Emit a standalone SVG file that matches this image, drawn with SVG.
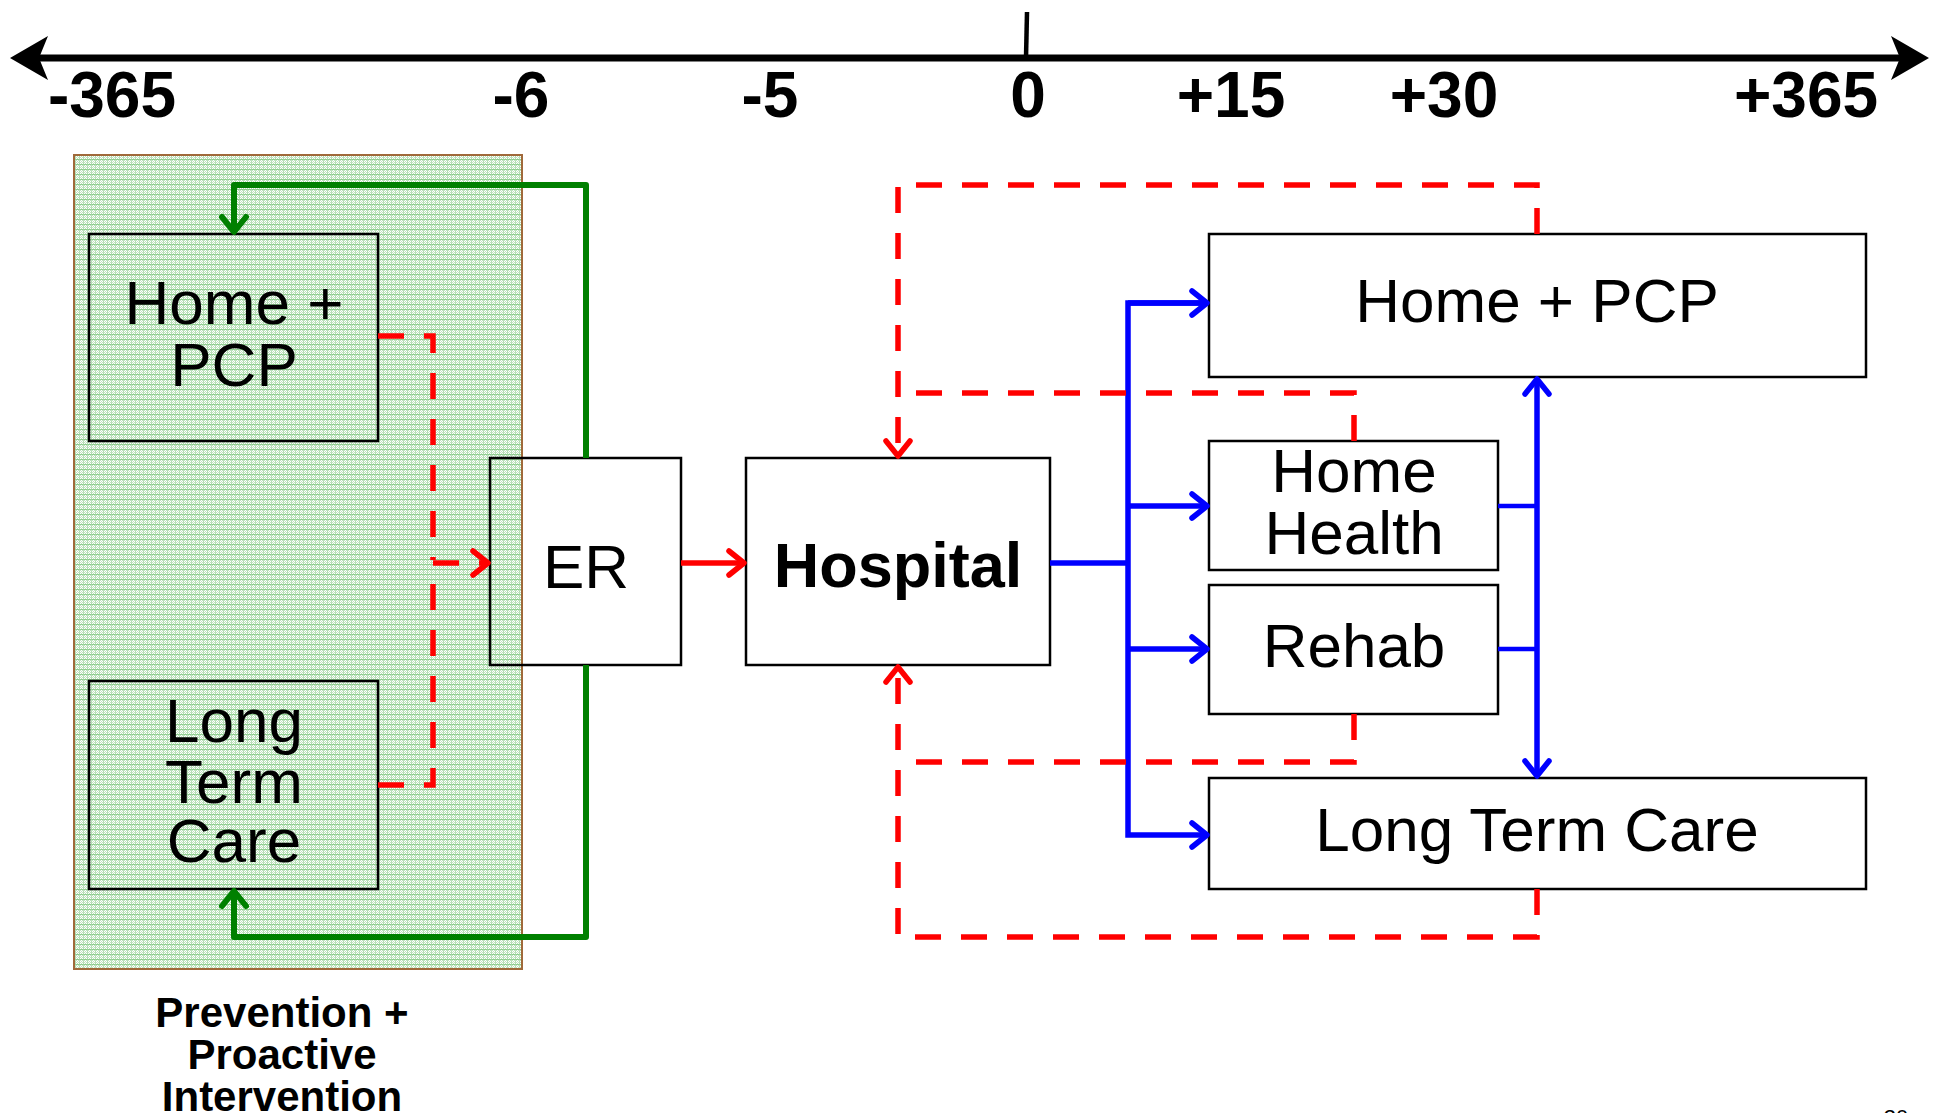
<svg xmlns="http://www.w3.org/2000/svg" width="1939" height="1113" viewBox="0 0 1939 1113">
<defs>
<style>
.box{fill:none;stroke:#000;stroke-width:2.5}
.wbox{fill:#fff;stroke:#000;stroke-width:2.5}
.t{font-family:"Liberation Sans",Arial,sans-serif;font-size:62px;fill:#000;text-anchor:middle}
.tb{font-family:"Liberation Sans",Arial,sans-serif;font-weight:bold;fill:#000;text-anchor:middle}
.ax{font-size:64px}
.blue{fill:none;stroke:#0000ff;stroke-width:5.5}
.blue2{fill:none;stroke:#0000ff;stroke-width:4.5}
.red{fill:none;stroke:#ff0000;stroke-width:5.5}
.dash{fill:none;stroke:#ff0000;stroke-width:5.5;stroke-dasharray:26 20}
.green{fill:none;stroke:#008000;stroke-width:6;stroke-linejoin:round}
</style>
<pattern id="hatch" width="4" height="5" patternUnits="userSpaceOnUse">
<rect width="4" height="5" fill="#ffffff"/>
<path d="M0 0h1v1h-1zM2 0h1v1h-1zM1 1h1v1h-1zM3 1h1v1h-1zM0 2h1v1h-1zM2 2h1v1h-1zM1 3h1v1h-1zM3 3h1v1h-1z" fill="#bfe2bf"/>
<rect y="4" width="4" height="1" fill="#8ecd8e"/>
<rect x="3" width="1" height="5" fill="#a6d7a6" opacity="0.7"/>
</pattern>
<marker id="mb" viewBox="0 0 40 40" refX="20" refY="20" markerWidth="40" markerHeight="40" markerUnits="userSpaceOnUse" orient="auto-start-reverse">
<path d="M5 8 L20 20 L5 32" fill="none" stroke="#0000ff" stroke-width="5.5" stroke-linecap="round" stroke-linejoin="round"/>
</marker>
<marker id="mr" viewBox="0 0 40 40" refX="20" refY="20" markerWidth="40" markerHeight="40" markerUnits="userSpaceOnUse" orient="auto">
<path d="M5 8 L20 20 L5 32" fill="none" stroke="#ff0000" stroke-width="5.5" stroke-linecap="round" stroke-linejoin="round"/>
</marker>
<marker id="mg" viewBox="0 0 40 40" refX="20" refY="20" markerWidth="40" markerHeight="40" markerUnits="userSpaceOnUse" orient="auto">
<path d="M5 8 L20 20 L5 32" fill="none" stroke="#008000" stroke-width="6" stroke-linecap="round" stroke-linejoin="round"/>
</marker>
</defs>
<rect width="1939" height="1113" fill="#fff"/>

<g id="timeline">
<line x1="30" y1="58" x2="1910" y2="58" stroke="#000" stroke-width="7"/>
<polygon points="10,58 48,36 39,58 48,80" fill="#000"/>
<polygon points="1929,58 1891,36 1900,58 1891,80" fill="#000"/>
<line x1="1027" y1="12" x2="1026" y2="58" stroke="#000" stroke-width="4.5"/>
<g class="tb ax">
<text x="112" y="117">-365</text>
<text x="521" y="117">-6</text>
<text x="770" y="117">-5</text>
<text x="1028" y="117">0</text>
<text x="1231" y="117">+15</text>
<text x="1444" y="117">+30</text>
<text x="1806" y="117">+365</text>
</g>
</g>

<g id="prevention-zone">
<rect x="74" y="155" width="448" height="814" fill="url(#hatch)" stroke="#a0693a" stroke-width="2"/>
<text class="tb" font-size="42" x="282" y="1027">Prevention +</text>
<text class="tb" font-size="42" x="282" y="1069">Proactive</text>
<text class="tb" font-size="42" x="282" y="1111">Intervention</text>
</g>

<g id="node-left-home-pcp">
<rect class="box" x="89" y="234" width="289" height="207"/>
<text class="t" x="234" y="324">Home +</text>
<text class="t" x="234" y="386">PCP</text>
</g>
<g id="node-left-ltc">
<rect class="box" x="89" y="681" width="289" height="208"/>
<text class="t" x="234" y="742">Long</text>
<text class="t" x="234" y="803">Term</text>
<text class="t" x="234" y="862">Care</text>
</g>
<g id="node-er">
<rect class="box" x="490" y="458" width="191" height="207"/>
<text class="t" x="586" y="588">ER</text>
</g>
<g id="node-hospital">
<rect class="wbox" x="746" y="458" width="304" height="207"/>
<text class="tb" font-size="63" x="898" y="587">Hospital</text>
</g>
<g id="node-right-home-pcp">
<rect class="wbox" x="1209" y="234" width="657" height="143"/>
<text class="t" x="1537" y="322">Home + PCP</text>
</g>
<g id="node-home-health">
<rect class="wbox" x="1209" y="441" width="289" height="129"/>
<text class="t" x="1354" y="492">Home</text>
<text class="t" x="1354" y="554">Health</text>
</g>
<g id="node-rehab">
<rect class="wbox" x="1209" y="585" width="289" height="129"/>
<text class="t" x="1354" y="667">Rehab</text>
</g>
<g id="node-right-ltc">
<rect class="wbox" x="1209" y="778" width="657" height="111"/>
<text class="t" x="1537" y="851">Long Term Care</text>
</g>

<g id="connectors">
<path class="green" d="M586 458 V185 H234 V232" marker-end="url(#mg)"/>
<path class="green" d="M586 665 V937 H234 V891" marker-end="url(#mg)"/>
<path class="dash" d="M378 336 H433 V560"/>
<path class="dash" d="M378 785 H433 V566"/>
<path class="dash" d="M433 563 H488" marker-end="url(#mr)"/>
<path class="red" d="M681 563 H744" marker-end="url(#mr)"/>
<path class="blue" d="M1050 563 H1128"/>
<path class="blue" d="M1207 303 H1128 V835 H1207" marker-end="url(#mb)"/>
<path class="blue" d="M1128 506 H1207" marker-end="url(#mb)"/>
<path class="blue" d="M1128 649 H1207" marker-end="url(#mb)"/>
<path class="blue" d="M1128 303 H1207" marker-end="url(#mb)"/>
<path class="blue2" d="M1498 506 H1537"/>
<path class="blue2" d="M1498 649 H1537"/>
<path class="blue" d="M1537 379 V776" marker-start="url(#mb)" marker-end="url(#mb)"/>
<path class="dash" d="M1537 234 V185 H898 V456" marker-end="url(#mr)"/>
<path class="dash" d="M1354 441 V393 H909"/>
<path class="dash" d="M1354 714 V762 H909"/>
<path class="dash" d="M1537 889 V937 H898 V667" marker-end="url(#mr)"/>
</g>

<text x="1896" y="1125" font-family="Liberation Sans,Arial,sans-serif" font-size="22" text-anchor="middle" fill="#000">30</text>
</svg>
